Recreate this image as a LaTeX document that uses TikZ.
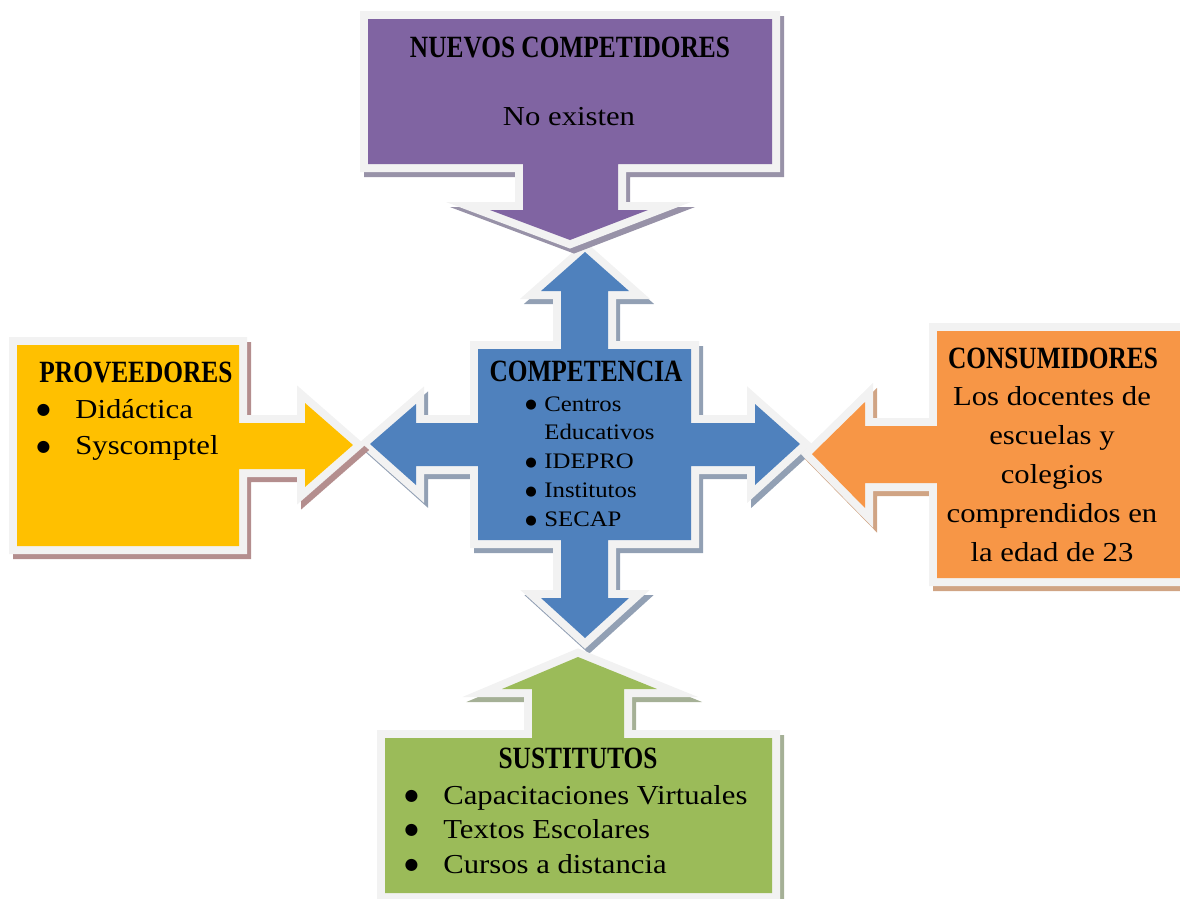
\documentclass[tikz,border=0pt]{standalone}
\usepackage{fontspec}
\setmainfont{Liberation Serif}[FakeStretch=1.12]
\newfontfamily\headfont{Liberation Serif}[FakeStretch=0.82]
\newfontfamily\dotfont{DejaVu Sans}
\usepackage{tikz}
\definecolor{purplebox}{RGB}{128,100,162}
\definecolor{bluebox}{RGB}{79,129,189}
\definecolor{yellowbox}{RGB}{255,192,0}
\definecolor{orangebox}{RGB}{247,150,70}
\definecolor{greenbox}{RGB}{155,187,89}
\definecolor{purpleshade}{RGB}{152,146,168}
\definecolor{blueshade}{RGB}{146,160,180}
\definecolor{yellowshade}{RGB}{180,142,142}
\definecolor{orangeshade}{RGB}{208,164,132}
\definecolor{greenshade}{RGB}{165,176,150}
\definecolor{rimgray}{RGB}{242,242,242}
\tikzstyle{rim} = [draw=rimgray, fill=rimgray, line width=0.32cm, line join=miter]
\tikzstyle{title} = [font=\headfont\bfseries\fontsize{17.6}{20}\selectfont, inner sep=0pt, anchor=base]
\tikzstyle{body} = [font=\fontsize{15.6}{21}\selectfont, inner sep=0pt, anchor=base]
\tikzstyle{list} = [body, anchor=base west]
\newcommand{\forcebox}[3]{%
  \filldraw[rim, draw=#2, fill=#2, shift={(4,5)}] #3;
  \filldraw[rim] #3;
  \fill[#1] #3;}
\newcommand{\itembullet}[3]{\llap{\raisebox{#2}{\dotfont\fontsize{#1}{0}\selectfont ●}\hspace{#3}}}

\begin{document}
\begin{tikzpicture}[x=0.02cm, y=-0.02cm]
   \useasboundingbox (0,0) rectangle (1180,899);
   % competencia (centre)
   \forcebox{bluebox}{blueshade}{(478,349) -- (561,349) -- (561,291) -- (541,291) -- (585,252)
      -- (629,291) -- (608,291) -- (608,349) -- (691,349) -- (691,423) -- (755,423) -- (755,404)
      -- (800,444) -- (755,485) -- (755,466) -- (691,466) -- (691,540) -- (608,540) -- (608,598)
      -- (629,598) -- (585,638) -- (541,598) -- (561,598) -- (561,540) -- (478,540) -- (478,466)
      -- (416,466) -- (416,485) -- (370,444) -- (416,404) -- (416,423) -- (478,423) -- cycle}
   % nuevos competidores
   \forcebox{purplebox}{purpleshade}{(368,19) -- (772,19) -- (772,164) -- (618,164) -- (618,210)
      -- (648,210) -- (570,240) -- (490,210) -- (523,210) -- (523,164) -- (368,164) -- cycle}
   % proveedores
   \forcebox{yellowbox}{yellowshade}{(17,345) -- (239,345) -- (239,423) -- (305,423) -- (305,403)
      -- (353,445) -- (305,487) -- (305,469) -- (239,469) -- (239,546) -- (17,546) -- cycle}
   % consumidores
   \forcebox{orangebox}{orangeshade}{(937,331) -- (1190,331) -- (1190,578) -- (937,578) -- (937,483)
      -- (865,483) -- (865,508) -- (812,454) -- (865,402) -- (865,426) -- (937,426) -- cycle}
   % sustitutos
   \forcebox{greenbox}{greenshade}{(385,738) -- (532,738) -- (532,689) -- (502,689) -- (578,657)
      -- (657,689) -- (624,689) -- (624,738) -- (772,738) -- (772,893) -- (385,893) -- cycle}

   \node[title] (nuevos) at (570,57) {NUEVOS COMPETIDORES};
   \node[body] (noexisten) at (569,125) {No existen};

   \node[title] (competencia) at (586,381) {COMPETENCIA};
   \node[list, font=\fontsize{12.6}{16.5}\selectfont] (rivales) at (544,411)
      {\begin{tabular}[t]{@{}l@{}}
       \itembullet{7.5}{1.6pt}{0.15cm}Centros\\
       Educativos\\
       \itembullet{7.5}{1.6pt}{0.15cm}IDEPRO\\
       \itembullet{7.5}{1.6pt}{0.15cm}Institutos\\
       \itembullet{7.5}{1.6pt}{0.15cm}SECAP
       \end{tabular}};

   \node[title] (proveedores) at (136,382) {PROVEEDORES};
   \node[list] (marcas) at (75,418)
      {\begin{tabular}[t]{@{}l@{}}
       \itembullet{9}{2.2pt}{0.5cm}Didáctica\\
       \itembullet{9}{2.2pt}{0.5cm}Syscomptel
       \end{tabular}};

   \node[title] (consumidores) at (1053,368) {CONSUMIDORES};
   \node[body, font=\fontsize{15.6}{22.3}\selectfont] (docentes) at (1052,405)
      {\begin{tabular}[t]{@{}c@{}}
       Los docentes de\\
       escuelas y\\
       colegios\\
       comprendidos en\\
       la edad de 23
       \end{tabular}};

   \node[title] (sustitutos) at (578,768) {SUSTITUTOS};
   \node[list, font=\fontsize{15.6}{19.75}\selectfont] (ofertas) at (443,804)
      {\begin{tabular}[t]{@{}l@{}}
       \itembullet{9}{2.2pt}{0.5cm}Capacitaciones Virtuales\\
       \itembullet{9}{2.2pt}{0.5cm}Textos Escolares\\
       \itembullet{9}{2.2pt}{0.5cm}Cursos a distancia
       \end{tabular}};
\end{tikzpicture}
\end{document}
